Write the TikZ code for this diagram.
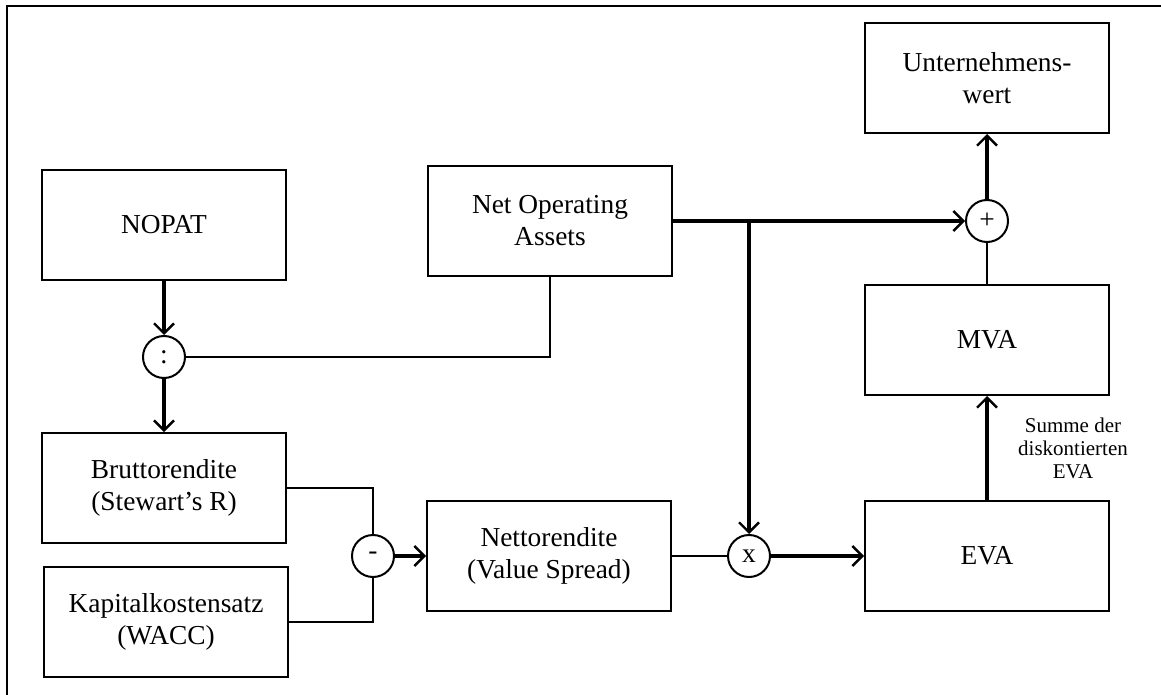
\documentclass[tikz,border=0pt]{standalone}
\usepackage{fontspec}
\setmainfont{Liberation Serif}
\usetikzlibrary{arrows.meta,calc,positioning}
\tikzset{box/.style={draw, rectangle, line width=1pt, minimum width=122pt, minimum height=55pt, align=center, font=\fontsize{13.7}{16}\selectfont},
  op/.style={draw, circle, line width=1pt, minimum size=21pt, inner sep=0pt, font=\fontsize{13.7}{16}\selectfont},
  flow/.style={line width=2.2pt, -{Straight Barb[length=5pt,width=10pt,line width=1.2pt]}},
  link/.style={line width=1pt},
  lbl/.style={align=center, inner sep=0pt, font=\fontsize{10.5}{11.5}\selectfont}}

\begin{document}
\begin{tikzpicture}[x=0.5pt, y=-0.5pt]
    \useasboundingbox (0,0) rectangle (1161,695);
    \draw[line width=1.3pt] (7,695) -- (7,6) -- (1161,6);

    \node[box] (nopat) at (164,225) {NOPAT};
    \node[box] (noa) at (550,221) {Net Operating\\Assets};
    \node[box] (brutto) at (164,488) {Bruttorendite\\(Stewart's R)};
    \node[box] (wacc) at (166,622) {Kapitalkostensatz\\(WACC)};
    \node[box] (netto) at (549,556) {Nettorendite\\(Value Spread)};
    \node[box] (eva) at (987,556) {EVA};
    \node[box] (mva) at (987,340) {MVA};
    \node[box] (uw) at (987,78) {Unternehmens-\\wert};

    \node[op] (div) at (164,357) {:};
    \node[op] (minus) at (373,556) {-};
    \node[op] (mul) at (749,556) {x};
    \node[op] (plus) at (987,221) {+};

    \draw[flow] (nopat) -- (div);
    \draw[flow] (div) -- (brutto);
    \draw[link] (div) -| (noa);
    \draw[link] (brutto) -| (minus);
    \draw[link] (wacc) -| (minus);
    \draw[flow] (minus) -- (netto);
    \draw[link] (netto) -- (mul);
    \draw[flow] (mul) -- (eva);
    \draw[flow] (noa) -- (plus);
    \coordinate (branch) at (noa.east -| mul);
    \draw[flow] (branch) -- (mul);
    \draw[link] (mva) -- (plus);
    \draw[flow] (plus) -- (uw);
    \draw[flow] (eva) -- node[lbl, xshift=43pt] (sum) {Summe der\\diskontierten\\EVA} (mva);
\end{tikzpicture}
\end{document}
